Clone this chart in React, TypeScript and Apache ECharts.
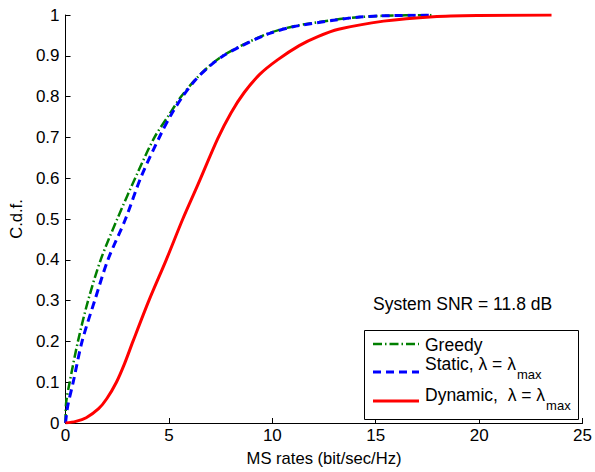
import React, { useEffect, useRef } from "react";
import * as echarts from "echarts";

// MS rate (bit/sec/Hz) and C.d.f. values
const greedyX = [0, 0.03, 0.2, 0.6, 1.09, 1.7, 2.5, 3.5, 4.3, 5.0, 5.59, 6.3, 6.95, 7.6, 8.5, 9.76, 11.0, 12.96, 14.0, 15.37, 17.8];
const greedyY = [0, 0.05, 0.1, 0.2, 0.3, 0.4, 0.5, 0.615, 0.7, 0.755, 0.8, 0.843, 0.875, 0.9, 0.925, 0.954, 0.972, 0.988, 0.994, 0.998, 1.0];

const staticX = [0, 0.1, 0.37, 0.8, 1.41, 2.05, 2.9, 3.66, 4.62, 5.1, 5.66, 6.3, 6.95, 7.6, 8.5, 9.76, 11.0, 12.96, 14.0, 15.37, 17.8];
const staticY = [0, 0.04, 0.1, 0.2, 0.3, 0.4, 0.5, 0.604, 0.709, 0.755, 0.8, 0.842, 0.874, 0.899, 0.924, 0.953, 0.971, 0.987, 0.994, 0.998, 1.0];

const dynamicX = [0, 0.5, 1.0, 1.6, 2.0, 2.46, 2.85, 3.26, 4.03, 4.87, 5.67, 6.39, 7.36, 8.0, 8.64, 9.4, 10.25, 11.3, 12.2, 13.2, 15.38, 17.79, 20.0, 23.5];
const dynamicY = [0, 0.004, 0.013, 0.035, 0.06, 0.1, 0.145, 0.2, 0.3, 0.4, 0.5, 0.583, 0.697, 0.76, 0.81, 0.855, 0.89, 0.925, 0.947, 0.965, 0.985, 0.996, 0.999, 1.0];

const xTicks = { min: 0, max: 25, interval: 5 };
const yTicks = { min: 0, max: 1, interval: 0.1 };

const seriesNames = ["Greedy", "Static", "Dynamic"];
const legendLabels = ["Greedy", "Static, λ = λ", "Dynamic,  λ = λ"];
const legendSubs = ["", "max", "max"];
const annotation = "System SNR = 11.8 dB";

const zip = (xs: number[], ys: number[]) => xs.map((x, i) => [x, ys[i]]);

const FONT = "'Liberation Sans', Arial, Helvetica, sans-serif";
const LEG_FS = 17.5;

function measure(text: string, size: number): number {
  const c = document.createElement("canvas").getContext("2d");
  if (!c) return text.length * size * 0.55;
  c.font = `${size}px ${FONT}`;
  return c.measureText(text).width;
}

export default function App() {
  const ref = useRef<HTMLDivElement>(null);

  useEffect(() => {
    document.body.style.margin = "0";
    const chart = echarts.init(ref.current!, null, { renderer: "svg" });

    const axisCommon = {
      axisLine: { show: true, onZero: false, lineStyle: { color: "#000", width: 1 } },
      axisTick: { show: true, inside: true, length: 5, lineStyle: { color: "#000" } },
      splitLine: { show: false },
      nameTextStyle: { color: "#000", fontSize: 16.6, fontFamily: FONT },
    };

    const colors = ["#007f00", "#0000ff", "#ff0000"];
    const dashes: any[] = [[9, 3, 1.5, 3], [8, 5], null];
    const widths = [2.5, 3, 3];
    const lineYs = [344, 372, 401];
    const textYs = [345, 364, 395];
    const legendX = 425;

    const legendGraphics: any[] = [];
    legendLabels.forEach((lab, i) => {
      legendGraphics.push({
        type: "line",
        shape: { x1: 373, y1: lineYs[i], x2: 419, y2: lineYs[i] },
        style: { stroke: colors[i], lineWidth: widths[i], lineDash: dashes[i] || undefined },
        z: 11,
      });
      legendGraphics.push({
        type: "text",
        x: legendX,
        y: textYs[i],
        style: { text: lab, fontSize: LEG_FS, fontFamily: FONT, fill: "#000", textVerticalAlign: "middle" },
        z: 11,
      });
      if (legendSubs[i]) {
        legendGraphics.push({
          type: "text",
          x: legendX + measure(lab, LEG_FS) + 1,
          y: textYs[i] + 10,
          style: { text: legendSubs[i], fontSize: 13, fontFamily: FONT, fill: "#000", textVerticalAlign: "middle" },
          z: 11,
        });
      }
    });

    const mk = (i: number, xs: number[], ys: number[]) => ({
      name: seriesNames[i],
      type: "line",
      showSymbol: false,
      symbol: "none",
      smooth: 0.3,
      data: zip(xs, ys),
      lineStyle: { color: colors[i], width: widths[i], type: dashes[i] || "solid" },
      z: 2 + i,
    });

    chart.setOption({
      animation: false,
      backgroundColor: "#fff",
      grid: { left: 64, right: 12, top: 15, bottom: 45, containLabel: false },
      xAxis: {
        type: "value",
        ...xTicks,
        ...axisCommon,
        name: "MS rates (bit/sec/Hz)",
        nameLocation: "middle",
        nameGap: 27,
        axisLabel: { color: "#000", fontSize: 17, fontFamily: FONT, margin: 4 },
      },
      yAxis: {
        type: "value",
        ...yTicks,
        ...axisCommon,
        name: "C.d.f.",
        nameLocation: "middle",
        nameGap: 38,
        nameRotate: 90,
        axisLabel: { color: "#000", fontSize: 17, fontFamily: FONT, margin: 6 },
      },
      series: [
        mk(0, greedyX, greedyY),
        mk(1, staticX, staticY),
        mk(2, dynamicX, dynamicY),
      ],
      graphic: [
        {
          type: "text",
          x: 373,
          y: 304,
          style: { text: annotation, fontSize: LEG_FS, fontFamily: FONT, fill: "#000", textVerticalAlign: "middle" },
        },
        {
          type: "rect",
          shape: { x: 364.5, y: 330.5, width: 214, height: 89 },
          style: { fill: "#fff", stroke: "#000", lineWidth: 1 },
          z: 10,
        },
        ...legendGraphics,
      ],
    });

    return () => chart.dispose();
  }, []);

  return (
    <div
      ref={ref}
      style={{ position: "absolute", left: 0, top: 0, width: 595, height: 472 }}
    />
  );
}
